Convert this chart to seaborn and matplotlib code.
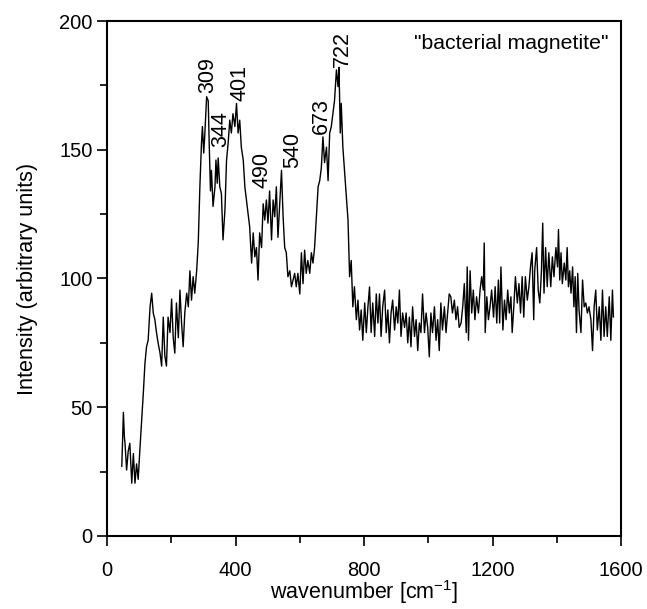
import matplotlib
matplotlib.use("Agg")
import matplotlib.pyplot as plt
from matplotlib.ticker import MultipleLocator
import seaborn as sns

# Raman spectrum
wavenumber = [
    46, 51, 54, 56, 61, 66, 71, 77, 82, 87, 92, 97, 102, 108, 113, 118, 123, 128, 134, 139,
    144, 149, 154, 159, 165, 170, 175, 180, 185, 190, 196, 201, 206, 211, 216, 222, 227, 232, 237, 242,
    248, 253, 258, 263, 268, 273, 279, 284, 289, 294, 297, 301, 304, 310, 315, 318, 322, 325, 330, 336,
    339, 343, 346, 351, 356, 361, 367, 372, 377, 382, 387, 392, 398, 403, 408, 413, 418, 424, 429, 434,
    439, 444, 450, 455, 460, 465, 470, 475, 481, 486, 491, 496, 501, 506, 512, 517, 522, 527, 532, 538,
    543, 548, 553, 558, 563, 569, 574, 579, 584, 589, 594, 600, 605, 610, 615, 620, 625, 631, 636, 641,
    646, 651, 657, 662, 667, 672, 677, 683, 688, 693, 698, 703, 708, 714, 719, 722, 726, 729, 734, 739,
    745, 750, 755, 760, 765, 770, 776, 781, 786, 791, 796, 802, 807, 812, 817, 822, 827, 833, 838, 843,
    848, 853, 858, 864, 869, 874, 879, 884, 889, 895, 900, 905, 910, 915, 920, 926, 931, 936, 941, 946,
    951, 957, 962, 967, 972, 977, 982, 988, 993, 998, 1003, 1008, 1013, 1019, 1024, 1029, 1034, 1039, 1044, 1050,
    1055, 1060, 1065, 1070, 1075, 1081, 1086, 1091, 1096, 1102, 1107, 1112, 1118, 1121, 1125, 1130, 1135, 1140, 1145, 1150,
    1156, 1161, 1166, 1171, 1174, 1177, 1182, 1187, 1192, 1197, 1203, 1208, 1213, 1218, 1222, 1226, 1232, 1237, 1242, 1247,
    1252, 1257, 1261, 1266, 1271, 1277, 1282, 1287, 1292, 1297, 1302, 1308, 1313, 1318, 1323, 1328, 1331, 1337, 1342, 1347,
    1352, 1356, 1360, 1365, 1370, 1375, 1381, 1386, 1391, 1397, 1402, 1405, 1409, 1413, 1417, 1423, 1428, 1432, 1436, 1440,
    1444, 1449, 1453, 1457, 1461, 1465, 1469, 1475, 1480, 1485, 1490, 1495, 1500, 1506, 1511, 1516, 1521, 1526, 1532, 1537,
    1542, 1547, 1552, 1557, 1563, 1568, 1573, 1576,
]
intensity = [
    27, 48, 38.5, 36, 25.6, 33, 36, 20.5, 32, 20.5, 28, 22, 33, 45, 55.5, 67, 73.5, 76, 89, 94.3,
    86.5, 84, 79, 75, 71, 66, 85, 70, 66, 85, 79, 92, 77, 71, 90.5, 77, 95.5, 82.7, 73.5, 86.6,
    94.3, 89, 103, 91.6, 100.7, 94.3, 103, 114, 135.6, 152.6, 159, 148.7, 155, 170.6, 169, 152.6, 134, 142, 128, 135.6,
    146, 137, 146.8, 135.6, 133, 115, 126.6, 146, 152.6, 161.5, 156.5, 164, 159, 168, 156.5, 161.5, 151, 146, 135.6, 130.5,
    125.4, 120, 106, 117.7, 108.4, 112, 99.4, 117.7, 112, 129, 122.7, 130.5, 121.5, 134, 115, 130.5, 124, 135.6, 116, 130.5,
    142, 124, 112, 110, 100.7, 103, 96.8, 99.4, 102, 96.8, 102, 94, 110, 98, 111, 102, 107, 102, 110, 106,
    112, 122.7, 135.6, 138, 143, 155, 145, 151, 138, 156.5, 159, 164, 169, 181, 174.5, 182, 156.5, 168, 151, 142,
    131.7, 122.7, 100.7, 107, 89, 96.8, 84, 91.6, 80, 87.8, 76, 90.5, 79, 89, 96.7, 79, 90.5, 77.5, 94, 82.7,
    94, 77.5, 89, 95.5, 79, 87.8, 75, 86.6, 91.6, 80, 89, 82.7, 95.5, 77.5, 86.6, 81, 86.6, 75, 85, 73.5,
    89, 77.5, 84, 72, 82.7, 79, 94, 79, 86.6, 81, 69.6, 86.6, 79, 89, 76, 84, 72, 90.5, 80, 89,
    79, 86.6, 94, 92.9, 86.6, 91.6, 84, 89, 81, 82.7, 89, 98, 79, 104.5, 76, 103, 86.6, 95.5, 84, 92.9,
    86.6, 95.5, 100.7, 95.5, 113.8, 79, 92.9, 84, 89, 95.5, 85, 96.8, 82.7, 99.4, 82.7, 104.5, 80, 91.6, 84, 95.5,
    86.6, 92.9, 79, 89, 100.7, 90.5, 98, 86.6, 100.7, 85, 100.7, 91.6, 96.8, 104.5, 110, 84, 103, 112, 95.5, 90.5,
    103, 121.5, 94.3, 112, 96.8, 110, 96.8, 108.4, 100.7, 112, 104.5, 119, 99.4, 110, 98, 106, 99.4, 112, 96.8, 103,
    94.3, 104.5, 89, 100.7, 79, 102, 87.8, 79, 99.4, 89, 90.5, 86.6, 89, 84, 72, 89, 95.5, 80, 89, 76,
    95.5, 77.5, 89, 77.5, 92.9, 76, 95.5, 85,
]

# peak labels (text, x, y of text base)
peak_names = ["309", "344", "401", "490", "540", "673", "722"]
peak_x = [314, 354, 415, 483, 578, 667, 732]
peak_y = [172, 151, 169, 135, 143, 156, 182]

sns.set_style("ticks")
plt.rcParams['font.family'] = ['Liberation Sans', 'DejaVu Sans']
plt.rcParams['text.color'] = 'black'
plt.rcParams['axes.labelcolor'] = 'black'
plt.rcParams['mathtext.fontset'] = 'custom'
plt.rcParams['mathtext.rm'] = 'Liberation Sans'

fig = plt.figure(figsize=(6.47, 6.09), dpi=100)
ax = fig.add_axes([0.1654, 0.1199, 0.7946, 0.8456])

sns.lineplot(x=wavenumber, y=intensity, color='black', linewidth=1.0, ax=ax)

for name, px, py in zip(peak_names, peak_x, peak_y):
    ax.text(px, py, name, rotation=90, ha='center', va='bottom', fontsize=15.5)

ax.text(0.975, 0.975, '"bacterial magnetite"', transform=ax.transAxes,
        ha='right', va='top', fontsize=15.3)

ax.set_xlim(0, 1600)
ax.set_ylim(0, 200)
ax.xaxis.set_major_locator(MultipleLocator(400))
ax.xaxis.set_minor_locator(MultipleLocator(200))
ax.yaxis.set_major_locator(MultipleLocator(50))
ax.yaxis.set_minor_locator(MultipleLocator(25))
ax.tick_params(which='major', length=7, width=1.2, labelsize=14.5, color='black', labelcolor='black')
ax.tick_params(which='minor', length=5, width=1.2, color='black')
ax.tick_params(axis='x', pad=11)
for s in ax.spines.values():
    s.set_visible(True)
    s.set_linewidth(1.5)
    s.set_color('black')

ax.set_xlabel('wavenumber [cm$^{\\mathregular{-1}}$]', fontsize=15.5, labelpad=-1)
ax.set_ylabel('Intensity (arbitrary units)', fontsize=15.6, labelpad=15)

fig.savefig('out.png', dpi=100)
